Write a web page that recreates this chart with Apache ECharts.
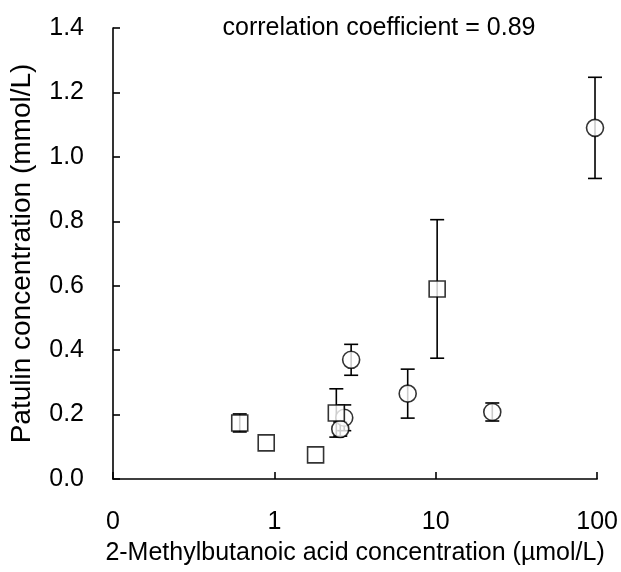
<!DOCTYPE html>
<html><head><meta charset="utf-8">
<script src="https://cdn.jsdelivr.net/npm/echarts@6/dist/echarts.min.js"></script>
<style>html,body{margin:0;padding:0;background:#fff}#c{width:621px;height:572px}</style>
</head><body><div id="c"></div>
<script>
// Data (x: 2-methylbutanoic acid µmol/L, y: patulin mmol/L, err: ± error bar)
const circleX = [2.99, 2.71, 2.56, 6.7, 22.4, 97];
const circleY = [0.37, 0.19, 0.155, 0.265, 0.208, 1.09];
const circleErr = [0.048, 0.04, 0.022, 0.076, 0.028, 0.157];
const squareX = [0.61, 0.89, 1.80, 2.42, 10.2];
const squareY = [0.174, 0.112, 0.075, 0.205, 0.59];
const squareErr = [0.028, 0, 0, 0.075, 0.215];
const yTicks = [0, 0.2, 0.4, 0.6, 0.8, 1.0, 1.2, 1.4];
const xTicks = [0.1, 1, 10, 100];
const titleText = 'correlation coefficient = 0.89';

const FONT = 'Liberation Sans, Arial, sans-serif';
const toPts = (xs, ys) => xs.map((x, i) => [x, ys[i]]);
const errData = (xs, ys, es) => xs.map((x, i) => [x, ys[i], es[i]]).filter(d => d[2] > 0);

function errRender(params, api) {
  const x = api.value(0), y = api.value(1), e = api.value(2);
  const top = api.coord([x, y + e]);
  const bot = api.coord([x, y - e]);
  const hw = 7;
  const st = {stroke: '#000', lineWidth: 1.6};
  return {type: 'group', children: [
    {type: 'line', shape: {x1: top[0], y1: top[1], x2: bot[0], y2: bot[1]}, style: st},
    {type: 'line', shape: {x1: top[0]-hw, y1: top[1], x2: top[0]+hw, y2: top[1]}, style: st},
    {type: 'line', shape: {x1: bot[0]-hw, y1: bot[1], x2: bot[0]+hw, y2: bot[1]}, style: st}
  ]};
}

const chart = echarts.init(document.getElementById('c'));
chart.setOption({
  animation: false,
  backgroundColor: '#fff',
  textStyle: {fontFamily: FONT},
  title: {text: titleText, left: 374, top: 11, textAlign: 'center',
    textStyle: {fontFamily: FONT, fontSize: 25, fontWeight: 'normal', color: '#000'}},
  grid: {left: 113, right: 18, top: 28, bottom: 93},
  xAxis: {type: 'log', logBase: 10, min: 0.1, max: 100,
    name: '2-Methylbutanoic acid concentration (µmol/L)', nameLocation: 'middle', nameGap: 62,
    nameTextStyle: {fontFamily: FONT, fontSize: 25, color: '#000'},
    axisLine: {lineStyle: {color: '#000', width: 1.6}},
    axisTick: {inside: true, length: 7, lineStyle: {color: '#000', width: 1.6}},
    minorTick: {show: false}, splitLine: {show: false},
    axisLabel: {margin: 31, fontFamily: FONT, fontSize: 25, color: '#000',
      formatter: v => (v < 1 ? '0' : String(Math.round(v)))}
  },
  yAxis: {type: 'value', min: 0, max: 1.4, interval: 0.2,
    name: 'Patulin concentration (mmol/L)', nameLocation: 'middle', nameGap: 77,
    nameTextStyle: {fontFamily: FONT, fontSize: 28, color: '#000'},
    axisLine: {show: true, lineStyle: {color: '#000', width: 1.6}},
    axisTick: {show: true, inside: true, length: 7, lineStyle: {color: '#000', width: 1.6}},
    splitLine: {show: false},
    axisLabel: {margin: 29, fontFamily: FONT, fontSize: 25, color: '#000',
      formatter: v => v.toFixed(1)}
  },
  series: [
    {type: 'custom', renderItem: errRender, data: errData(circleX, circleY, circleErr), z: 1},
    {type: 'custom', renderItem: errRender, data: errData(squareX, squareY, squareErr), z: 1},
    {type: 'scatter', data: toPts(circleX, circleY), symbol: 'circle', symbolSize: 17, z: 2,
      itemStyle: {color: '#fff', borderColor: '#000', borderWidth: 1.6}},
    {type: 'scatter', data: toPts(squareX, squareY), symbol: 'rect', symbolSize: 16, z: 3,
      itemStyle: {color: '#fff', borderColor: '#000', borderWidth: 1.6}}
  ]
});
</script></body></html>
